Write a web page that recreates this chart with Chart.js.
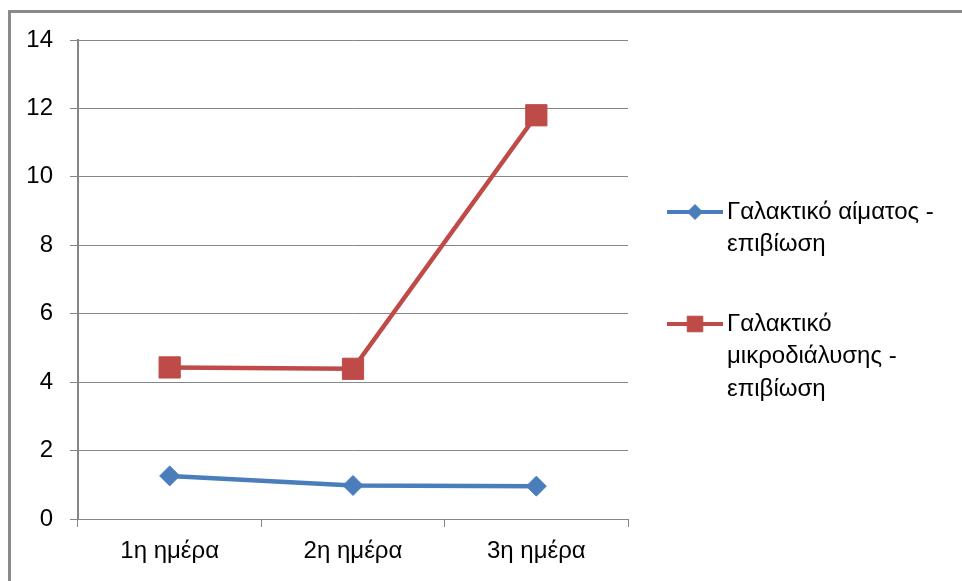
<!DOCTYPE html>
<html>
<head>
<meta charset="utf-8">
<script src="https://cdn.jsdelivr.net/npm/chart.js@4/dist/chart.umd.min.js"></script>
<style>
  html, body { margin: 0; padding: 0; background: #fff; }
  #wrap { width: 962px; height: 581px; position: relative; }
</style>
</head>
<body>
<div id="wrap"><canvas id="c" width="962" height="581"></canvas></div>
<script>
// Days of measurement
const categories = ['1η ημέρα', '2η ημέρα', '3η ημέρα'];
// Blood lactate vs. survival
const bloodLactate = [1.26, 0.98, 0.96];
// Microdialysis lactate vs. survival
const microLactate = [4.43, 4.39, 11.8];
// Value axis
const yMin = 0;
const yMax = 14;
const yStep = 2;
// Legend text, one entry per series, already broken into lines
const legendLines = [
  ['Γαλακτικό αίματος -', 'επιβίωση'],
  ['Γαλακτικό', 'μικροδιάλυσης -', 'επιβίωση']
];

const FONT = '"Liberation Sans", Arial, sans-serif';
const FONT_SIZE = 24;
const GRID = '#868686';
const BLUE = '#4A7EBB';
const RED = '#BE4B48';

// Outer frame around the whole chart
const framePlugin = {
  id: 'frame',
  beforeDraw(chart) {
    const ctx = chart.ctx;
    ctx.save();
    ctx.fillStyle = '#fff';
    ctx.fillRect(0, 0, chart.width, chart.height);
    ctx.strokeStyle = '#8a8a8a';
    ctx.lineWidth = 3;
    ctx.strokeRect(9.5, 11.5, chart.width + 20, chart.height + 20);
    ctx.restore();
  }
};

function drawMarker(ctx, style, r, x, y) {
  if (style === 'rectRot') {
    ctx.moveTo(x - r, y);
    ctx.lineTo(x, y - r);
    ctx.lineTo(x + r, y);
    ctx.lineTo(x, y + r);
    ctx.closePath();
  } else {
    const h = Math.SQRT1_2 * r;
    ctx.rect(x - h, y - h, 2 * h, 2 * h);
  }
}

// Legend drawn on the right, with wrapped labels
const sideLegend = {
  id: 'sideLegend',
  afterDraw(chart) {
    const ctx = chart.ctx;
    const x0 = 667, x1 = 723, tx = 727;
    const firstY = [212, 324];
    const lineGap = 32.5;
    ctx.save();
    chart.data.datasets.forEach((ds, i) => {
      const y = firstY[i];
      ctx.strokeStyle = ds.borderColor;
      ctx.lineWidth = 4;
      ctx.beginPath();
      ctx.moveTo(x0, y);
      ctx.lineTo(x1, y);
      ctx.stroke();
      ctx.fillStyle = ds.backgroundColor;
      ctx.lineWidth = 1;
      ctx.beginPath();
      drawMarker(ctx, ds.pointStyle, i === 0 ? 7.5 : 11, (x0 + x1) / 2, y);
      ctx.fill();
      ctx.stroke();
      ctx.fillStyle = '#000';
      ctx.font = FONT_SIZE + 'px ' + FONT;
      ctx.textAlign = 'left';
      ctx.textBaseline = 'middle';
      legendLines[i].forEach((t, k) => ctx.fillText(t, tx, y + k * lineGap));
    });
    ctx.restore();
  }
};

new Chart(document.getElementById('c'), {
  type: 'line',
  data: {
    labels: categories,
    datasets: [
      {
        label: legendLines[0].join(' '),
        data: bloodLactate,
        borderColor: BLUE,
        backgroundColor: BLUE,
        borderWidth: 4.5,
        pointStyle: 'rectRot',
        pointRadius: 10,
        pointBorderWidth: 1,
        pointBorderColor: BLUE,
        pointBackgroundColor: BLUE,
        tension: 0
      },
      {
        label: legendLines[1].join(' '),
        data: microLactate,
        borderColor: RED,
        backgroundColor: RED,
        borderWidth: 4.5,
        pointStyle: 'rect',
        pointRadius: 15,
        pointBorderWidth: 1,
        pointBorderColor: RED,
        pointBackgroundColor: RED,
        tension: 0
      }
    ]
  },
  options: {
    responsive: false,
    animation: false,
    devicePixelRatio: 1,
    layout: { padding: { left: 0, right: 334, top: 40, bottom: 0 } },
    plugins: {
      legend: { display: false },
      tooltip: { enabled: false }
    },
    scales: {
      x: {
        type: 'category',
        offset: true,
        afterFit(scale) { scale.height = 62; },
        grid: {
          offset: true,
          drawOnChartArea: false,
          drawTicks: true,
          tickLength: 8,
          color: GRID,
          lineWidth: 1
        },
        border: { display: true, color: GRID, width: 1 },
        ticks: {
          color: '#000',
          padding: 10,
          maxRotation: 0,
          font: { family: FONT, size: FONT_SIZE }
        }
      },
      y: {
        min: yMin,
        max: yMax,
        afterFit(scale) { scale.width = 78; },
        grid: {
          drawTicks: true,
          tickLength: 8,
          color: GRID,
          lineWidth: 1
        },
        border: { display: true, color: GRID, width: 2 },
        ticks: {
          stepSize: yStep,
          color: '#000',
          padding: 17,
          font: { family: FONT, size: FONT_SIZE }
        }
      }
    }
  },
  plugins: [framePlugin, sideLegend]
});
</script>
</body>
</html>
